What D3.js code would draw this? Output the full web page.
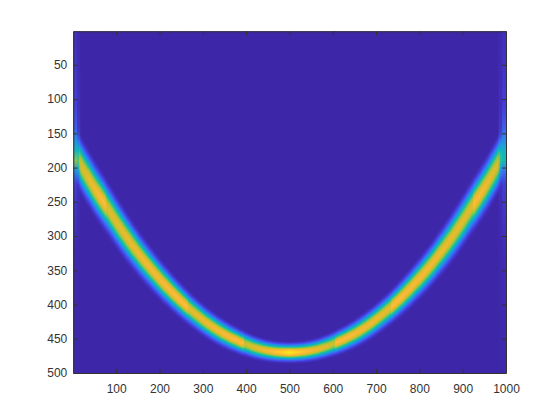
<!DOCTYPE html>
<html><head><meta charset="utf-8">
<script src="https://cdn.jsdelivr.net/npm/d3@7"></script>
<style>html,body{margin:0;background:#fff}svg{display:block}text{font-family:"Liberation Sans",Arial,sans-serif}</style>
</head><body><svg id="c" width="560" height="420"></svg>
<script>
// Ridge, per image column
const ridgeX    = [-20, 1,   23,  54,  77,  115, 154, 200, 262, 331, 396, 447, 500, 553, 604, 669, 738, 800, 846, 885, 923, 946, 977, 999, 1020];
const ridgeY    = [150, 175, 201, 234, 256, 293, 327, 362, 402, 436, 457, 467, 470, 467, 457, 436, 402, 362, 327, 293, 256, 234, 201, 175, 150];
const ridgeHalf = [36,  36,  36,  35,  34,  32,  29,  26,  22,  19,  16,  14,  13,  14,  16,  19,  22,  26,  29,  32,  34,  35,  36,  36,  36];
// Brightness of the crest, in sections split by the seams seen in the picture
const sectionStart = [-20, 14,  77,  265, 395, 605, 735, 923, 986];
const sectionEnd   = [14,  77,  265, 395, 605, 735, 923, 986, 1020];
const sectionXs    = [[-20,14],[14,77],[77,265],[265,395],[395,450,500,550,605],[605,735],[735,923],[923,986],[986,1020]];
const sectionPeak  = [[.5,.6],[.78,.88],[.8,.88],[.81,.88],[.77,.85,.98,.85,.77],[.88,.81],[.88,.8],[.88,.78],[.6,.5]];
// Cross-section of the ridge: relative value against relative distance from its crest
const profileValue = [0,   .03, .1,  .2,  .4,  .65, .85, .95, 1];
const profileDist  = [1.35,1.15,.98, .84, .68, .5,  .33, .18, 0];
// Faint strips along the left and right edges
const edgeY     = [1,   60,  110, 140, 160, 175, 190, 205, 225, 260, 320, 500];
const edgeLeft  = [.03, .05, .08, .15, .28, .45, .68, .3,  .07, .04, .01, .005];
const edgeRight = [.03, .05, .08, .15, .28, .42, .5,  .2,  .07, .05, .02, .005];
// Colour map and ticks
const parulaAt = [0,.1,.2,.3,.4,.5,.6,.7,.75,.8,.85,.9,.95,1];
const parula = ["#3e26a8","#4749ec","#3a72f8","#2192e0","#18a9cf","#0fbcb0","#45c580","#a0c640","#c8c02f","#e8ba2f","#fbb93c","#fdcb2a","#f5e41e","#f9fb15"];
const xTicks = [100,200,300,400,500,600,700,800,900,1000];
const yTicks = [50,100,150,200,250,300,350,400,450,500];

const W=560,H=420,L=73.3,R=506,T=31.3,B=373;
const svg=d3.select("#c");
const x=d3.scaleLinear([1,1000],[L,R]);
const y=d3.scaleLinear([1,500],[T,B]);
const color=d3.scaleLinear(parulaAt,parula).interpolate(d3.interpolateRgb).clamp(true);
const distAt=d3.scaleLinear(profileValue,profileDist).clamp(true);

const defs=svg.append("defs");
defs.append("clipPath").attr("id","plot").append("rect").attr("x",L).attr("y",T).attr("width",R-L).attr("height",B-T);
const heat=svg.append("g").attr("clip-path","url(#plot)");
heat.append("rect").attr("x",L).attr("y",T).attr("width",R-L).attr("height",B-T).attr("fill",color(0));

const levels=d3.range(0.012,1,0.012);
const smooth=d3.line().curve(d3.curveCatmullRom).x(d=>d[0]).y(d=>d[1]);
const tmp=svg.append("path").attr("fill","none");
function sampler(ys){ // follow a smooth curve through the read columns
  tmp.attr("d",smooth(ridgeX.map((c,i)=>[c,ys[i]])));
  const n=tmp.node(),len=n.getTotalLength(),pts=d3.range(0,len+1,1).map(s=>n.getPointAtLength(s));
  const bis=d3.bisector(p=>p.x).left;
  return c=>{const i=Math.min(pts.length-1,Math.max(0,bis(pts,c)));return pts[i].y;};
}
const cy=sampler(ridgeY), hy=sampler(ridgeHalf);
tmp.remove();
const pxCols=d3.range(-20,1021,4);

sectionStart.forEach((s,k)=>{
  const e=sectionEnd[k];
  const id="sec"+k;
  const x0=Math.round(x(s)),x1=Math.round(x(e));
  defs.append("clipPath").attr("id",id).append("rect").attr("x",x0).attr("y",T-2).attr("width",x1-x0+1).attr("height",B-T+4);
  const peak=d3.scaleLinear(sectionXs[k],sectionPeak[k]).clamp(true);
  const cols=pxCols.filter(c=>c>=s-8&&c<=e+8);
  const g=heat.append("g").attr("clip-path",`url(#${id})`);
  g.append("rect").attr("x",x0).attr("y",T).attr("width",x1-x0+1).attr("height",B-T).attr("fill",color(0));
  g.selectAll("path").data(levels).join("path")
    .attr("fill",d=>color(d))
    .attr("d",v=>{
      const off=c=>{const p=peak(c);return v>=p?0:hy(c)*distAt(v/p);};
      return d3.area().curve(d3.curveLinear).x(c=>x(c)).y0(c=>y(cy(c)-off(c))).y1(c=>y(cy(c)+off(c)))(cols);
    });
});

function edge(id,vals,x0,x1,op){
  if(defs.select("#"+id).empty()){
    const g=defs.append("linearGradient").attr("id",id).attr("gradientUnits","userSpaceOnUse")
      .attr("x1",0).attr("x2",0).attr("y1",y(1)).attr("y2",y(500));
    edgeY.forEach((e,i)=>g.append("stop").attr("offset",(y(e)-y(1))/(y(500)-y(1))).attr("stop-color",color(vals[i])));
  }
  heat.append("rect").attr("x",x(x0)).attr("y",T).attr("width",x(x1)-x(x0)).attr("height",B-T).attr("fill",`url(#${id})`).attr("opacity",op);
}
edge("eL",edgeLeft,1,10,.9);edge("eL",edgeLeft,10,17,.35);
edge("eR",edgeRight,991,1000,.9);edge("eR",edgeRight,983,991,.35);

const ink="#333333";
const style=g=>{g.selectAll("path.domain").attr("stroke",ink).attr("stroke-width",1);
  g.selectAll(".tick line").attr("stroke",ink).attr("stroke-width",1);
  g.selectAll("text").attr("fill",ink).attr("font-size",12).attr("font-family",'"Liberation Sans",Arial,sans-serif');};
svg.append("g").attr("transform",`translate(0,${B})`).call(d3.axisBottom(x).tickValues(xTicks).tickSizeInner(-4).tickSizeOuter(0).tickPadding(11).tickFormat(d3.format("d"))).call(style);
svg.append("g").attr("transform",`translate(${L},0)`).call(d3.axisLeft(y).tickValues(yTicks).tickSizeInner(-4).tickSizeOuter(0).tickPadding(6).tickFormat(d3.format("d"))).call(style);
svg.append("g").attr("transform",`translate(0,${T})`).call(d3.axisTop(x).tickValues(xTicks).tickSizeInner(-4).tickSizeOuter(0).tickFormat("")).call(style);
svg.append("g").attr("transform",`translate(${R},0)`).call(d3.axisRight(y).tickValues(yTicks).tickSizeInner(-4).tickSizeOuter(0).tickFormat("")).call(style);
</script></body></html>
